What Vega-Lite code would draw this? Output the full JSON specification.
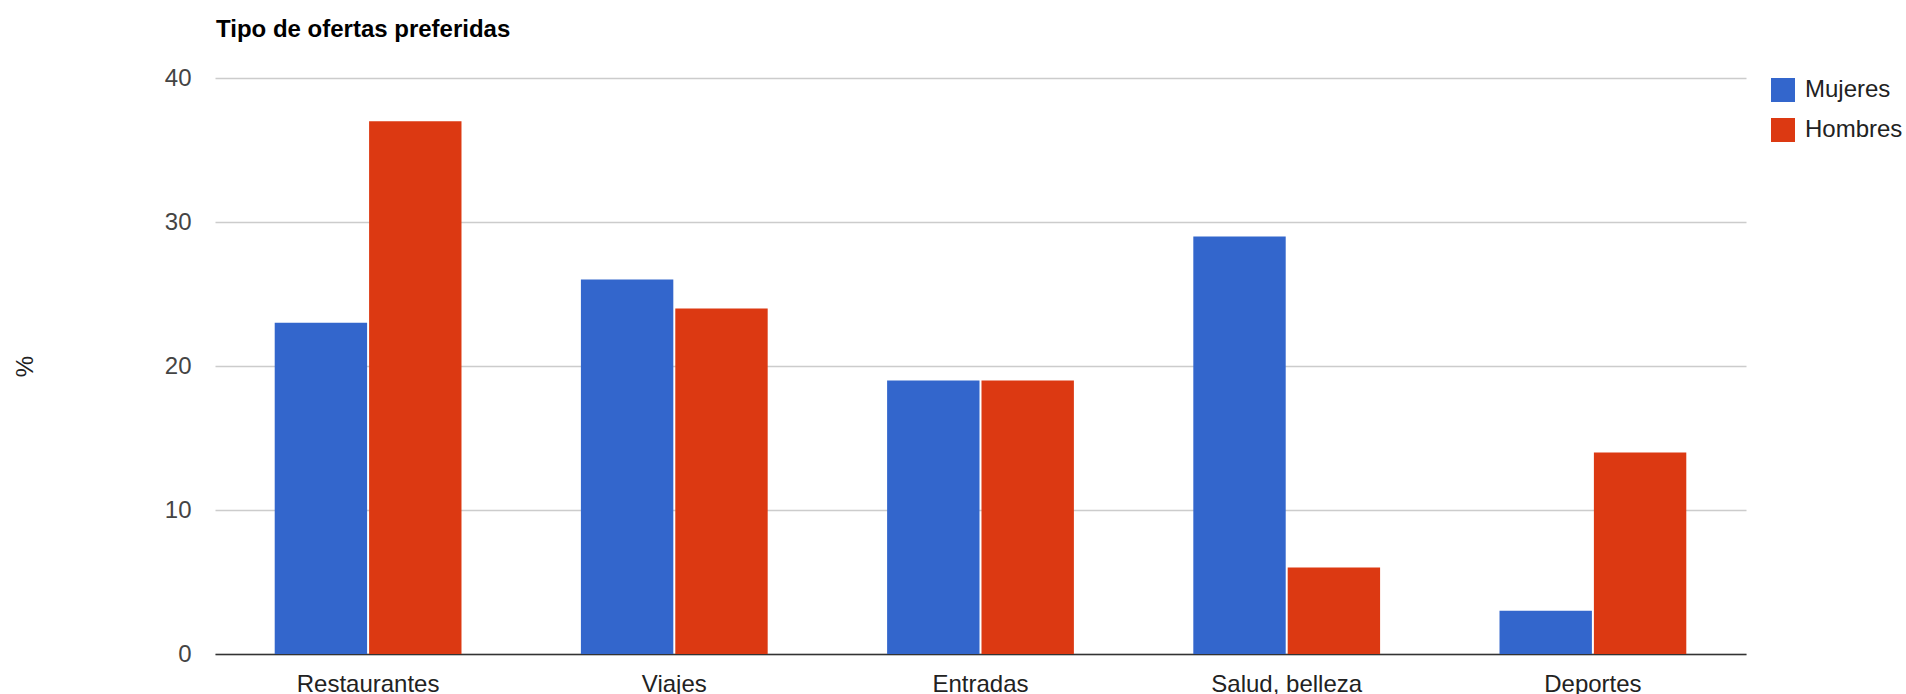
{
  "$schema": "https://vega.github.io/schema/vega-lite/v6.json",
  "autosize": {"type": "none"},
  "width": 1531,
  "height": 576,
  "padding": {"left": 215, "top": 78, "right": 160, "bottom": 40},
  "background": "white",
  "config": {
    "font": "Liberation Sans",
    "view": {"stroke": null}
  },
  "title": {
    "text": "Tipo de ofertas preferidas",
    "anchor": "start",
    "frame": "group",
    "fontSize": 24,
    "fontWeight": "bold",
    "color": "#000000",
    "baseline": "alphabetic",
    "offset": 5,
    "dx": 1
  },
  "data": {
    "values": [
      {"categoria": "Restaurantes", "grupo": "Mujeres", "porcentaje": 23},
      {"categoria": "Restaurantes", "grupo": "Hombres", "porcentaje": 37},
      {"categoria": "Viajes", "grupo": "Mujeres", "porcentaje": 26},
      {"categoria": "Viajes", "grupo": "Hombres", "porcentaje": 24},
      {"categoria": "Entradas", "grupo": "Mujeres", "porcentaje": 19},
      {"categoria": "Entradas", "grupo": "Hombres", "porcentaje": 19},
      {"categoria": "Salud, belleza", "grupo": "Mujeres", "porcentaje": 29},
      {"categoria": "Salud, belleza", "grupo": "Hombres", "porcentaje": 6},
      {"categoria": "Deportes", "grupo": "Mujeres", "porcentaje": 3},
      {"categoria": "Deportes", "grupo": "Hombres", "porcentaje": 14}
    ]
  },
  "mark": {"type": "bar"},
  "encoding": {
    "x": {
      "field": "categoria",
      "type": "nominal",
      "sort": ["Restaurantes", "Viajes", "Entradas", "Salud, belleza", "Deportes"],
      "scale": {"paddingInner": 0.39, "paddingOuter": 0.195},
      "axis": {
        "title": null,
        "labelAngle": 0,
        "labelFontSize": 24,
        "labelColor": "#222222",
        "labelPadding": 18,
        "ticks": false,
        "domainColor": "#333333",
        "domainWidth": 1.5,
        "grid": false
      }
    },
    "xOffset": {
      "field": "grupo",
      "type": "nominal",
      "sort": ["Mujeres", "Hombres"],
      "scale": {"paddingInner": 0.021}
    },
    "y": {
      "field": "porcentaje",
      "type": "quantitative",
      "scale": {"domain": [0, 40], "nice": false},
      "axis": {
        "title": "%",
        "titleFontSize": 24,
        "titleFontWeight": "normal",
        "titleColor": "#222222",
        "titleAngle": -90,
        "titleX": -190,
        "titleY": 288,
        "titleAlign": "center",
        "titleBaseline": "middle",
        "values": [0, 10, 20, 30, 40],
        "labelFontSize": 24,
        "labelColor": "#444444",
        "labelPadding": 24,
        "ticks": false,
        "domain": false,
        "gridColor": "#cccccc",
        "gridWidth": 1.5
      }
    },
    "color": {
      "field": "grupo",
      "type": "nominal",
      "sort": ["Mujeres", "Hombres"],
      "scale": {"domain": ["Mujeres", "Hombres"], "range": ["#3366cc", "#dc3912"]},
      "legend": {
        "title": null,
        "orient": "none",
        "legendX": 1556,
        "legendY": 0,
        "padding": 0,
        "symbolType": "square",
        "symbolSize": 576,
        "symbolStrokeWidth": 0,
        "symbolOpacity": 1,
        "labelFontSize": 24,
        "labelColor": "#222222",
        "labelOffset": 10,
        "rowPadding": 16
      }
    }
  }
}
